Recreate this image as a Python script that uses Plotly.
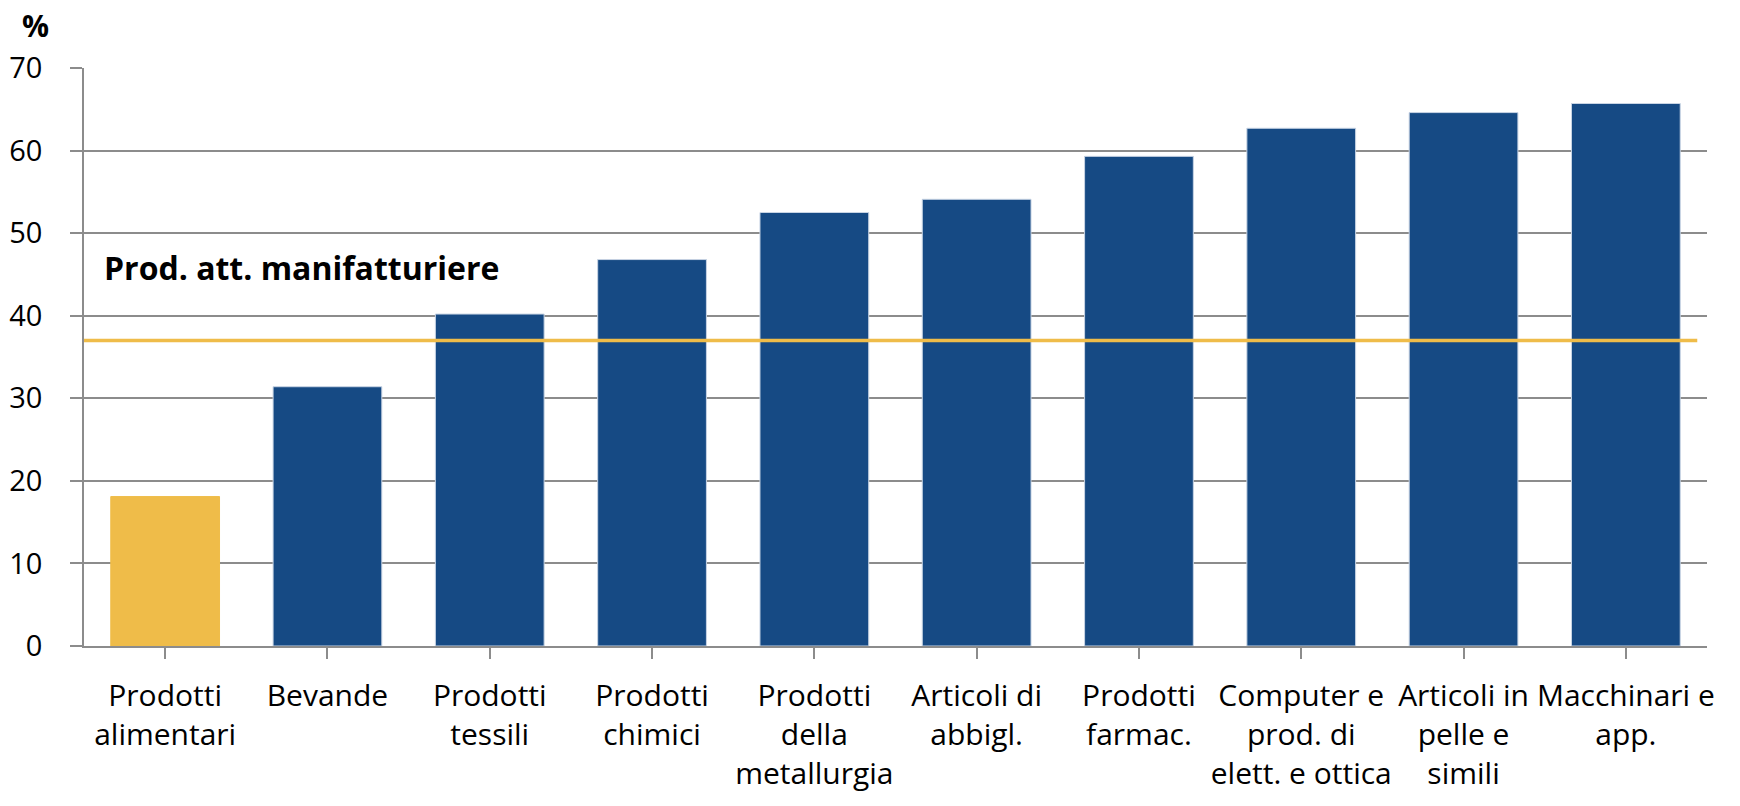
import plotly.graph_objects as go

# Quota per settore (%)
categories = [
    "Prodotti<br>alimentari",
    "Bevande",
    "Prodotti<br>tessili",
    "Prodotti<br>chimici",
    "Prodotti<br>della<br>metallurgia",
    "Articoli di<br>abbigl.",
    "Prodotti<br>farmac.",
    "Computer e<br>prod. di<br>elett. e ottica",
    "Articoli in<br>pelle e<br>simili",
    "Macchinari e<br>app.",
]
values = [18.1, 31.4, 40.2, 46.8, 52.5, 54.1, 59.3, 62.7, 64.6, 65.7]
manuf_total = 37.0
manuf_label = "Prod. att. manifatturiere"
y_ticks = [0, 10, 20, 30, 40, 50, 60, 70]

BLUE = "#164a84"
YELLOW = "#efbc49"
GRID = "#8c8c8c"
FONT = "Open Sans"

bar_colors = [YELLOW] + [BLUE] * (len(values) - 1)
edge_colors = [YELLOW] + ["#c8d4e4"] * (len(values) - 1)

fig = go.Figure()
fig.add_trace(go.Bar(
    x=list(range(len(categories))),
    y=values,
    marker=dict(color=bar_colors, line=dict(color=edge_colors, width=1)),
    hoverinfo="skip",
))

# Reference line for the manufacturing total
fig.add_shape(
    type="line", xref="x", yref="y",
    x0=-0.52, x1=9.44, y0=manuf_total, y1=manuf_total,
    line=dict(color=YELLOW, width=3.5), layer="above",
)
fig.add_annotation(
    x=-0.39, y=45.8, xref="x", yref="y", text=f"<b>{manuf_label}</b>",
    showarrow=False, xanchor="left", yanchor="middle",
    font=dict(family=FONT, size=32, color="#000000"),
)
# "%" unit label above the y axis
fig.add_annotation(
    x=-49 / 1623, y=1 + 43 / 578, xref="paper", yref="paper", text="<b>%</b>",
    showarrow=False, xanchor="center", yanchor="middle",
    font=dict(family=FONT, size=30, color="#000000"),
)

fig.update_layout(
    width=1740, height=806,
    margin=dict(l=84, r=33, t=68, b=160, autoexpand=False),
    paper_bgcolor="white", plot_bgcolor="white",
    showlegend=False, bargap=0.33,
    font=dict(family=FONT, color="#000000"),
)
fig.update_xaxes(
    range=[-0.5, len(categories) - 0.5],
    tickmode="array", tickvals=list(range(len(categories))), ticktext=categories,
    tickangle=0, tickson="boundaries", ticks="outside", ticklen=11,
    tickcolor=GRID, tickwidth=1.5,
    showline=True, linecolor=GRID, linewidth=1.5,
    showgrid=False, zeroline=False,
    tickfont=dict(family=FONT, size=30, color="#000000"),
    ticklabelstandoff=11,
)
fig.update_yaxes(
    range=[0, 70], tickmode="array", tickvals=y_ticks,
    ticks="outside", ticklen=12, tickcolor=GRID, tickwidth=1.5,
    showline=True, linecolor=GRID, linewidth=1.5,
    showgrid=True, gridcolor=GRID, gridwidth=1.5, zeroline=False,
    tickfont=dict(family=FONT, size=29, color="#000000"),
    ticklabelstandoff=22,
)

fig.write_html("out.html")
